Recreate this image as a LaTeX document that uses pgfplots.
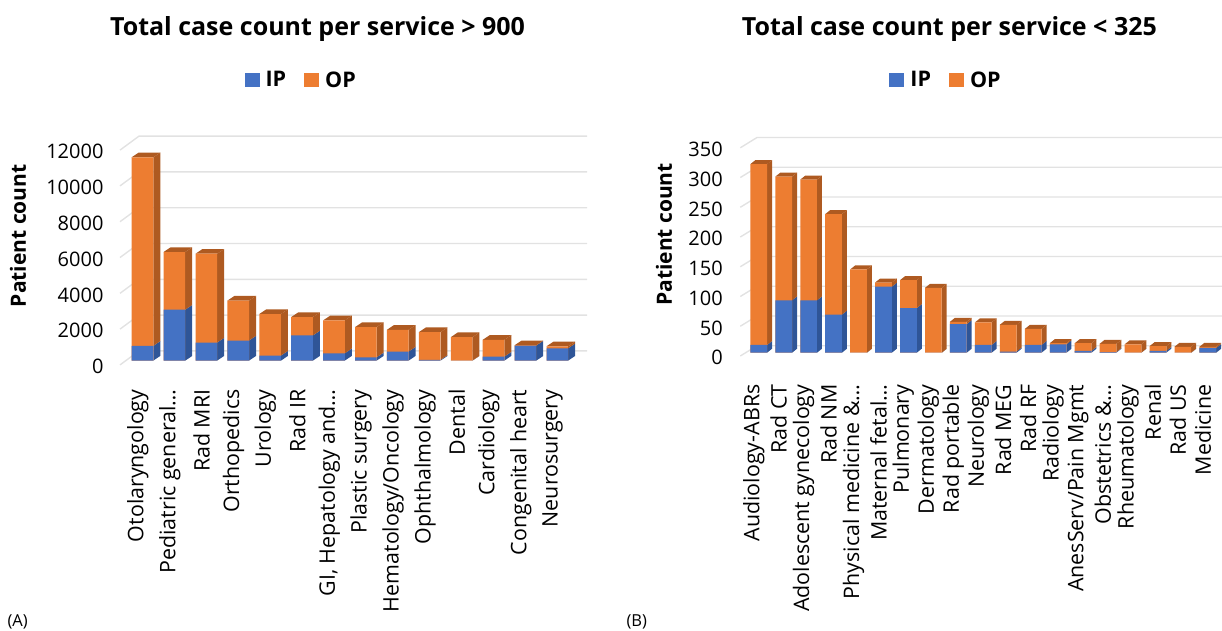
\documentclass[border=0pt]{standalone}
\usepackage{pgfplots}
\usepackage{pgfplotstable}
\usepackage{fontspec}
\setmainfont{Open Sans}
\pgfplotsset{compat=1.18}
\definecolor{ipc}{HTML}{4472C4}
\definecolor{opc}{HTML}{ED7D31}
\definecolor{ips}{HTML}{2F5597}
\definecolor{ops}{HTML}{AE5A21}
\definecolor{gridc}{HTML}{E2E2E2}
\pgfplotstableread{
x ip total
0 824 11360
1 2846 6067
2 1011 5974
3 1124 3352
4 281 2603
5 1404 2434
6 412 2247
7 187 1873
8 506 1723
9 40 1592
10 0 1311
11 225 1161
12 843 860
13 690 800
}\tabA
\pgfplotstableread{
x ip total
0 13 317
1 88 296
2 88 291
3 64 233
4 0 140
5 111 118
6 75 122
7 0 109
8 48 52
9 13 51
10 2 47
11 13 40
12 14 16
13 3 16
14 1 15
15 0 14
16 3 11
17 0 10
18 8 10
}\tabB
\newcommand\depthbar[3]{%
  \pgfmathsetmacro\xa{#1+\hw}\pgfmathsetmacro\xb{\xa+\dpx}\pgfmathsetmacro\xc{#1-\hw}\pgfmathsetmacro\xd{\xc+\dpx}%
  \pgfmathsetmacro\yi{#2+\dpy}\pgfmathsetmacro\yt{#3+\dpy}%
  \edef\tmp{\noexpand\addplot[forget plot,fill=ips,draw=none] coordinates {(\xa,0) (\xb,\dpy) (\xb,\yi) (\xa,#2) (\xa,0)};
  \noexpand\addplot[forget plot,fill=ops,draw=none] coordinates {(\xa,#2) (\xb,\yi) (\xb,\yt) (\xa,#3) (\xa,#2)};
  \noexpand\addplot[forget plot,fill=ops,draw=none] coordinates {(\xc,#3) (\xa,#3) (\xb,\yt) (\xd,\yt) (\xc,#3)};}\tmp}
\newcommand\alldepth[2]{%
  \pgfplotsforeachungrouped \i in {0,...,#2}{%
    \pgfplotstablegetelem{\i}{ip}\of#1\let\ipv\pgfplotsretval
    \pgfplotstablegetelem{\i}{total}\of#1\let\totv\pgfplotsretval
    \depthbar{\i}{\ipv}{\totv}}}
\newcommand\gline[3]{\addplot[forget plot,gridc,line width=1.4pt] coordinates {#1 #2 #3};}
\pgfplotsset{
  chart/.style={
    scale only axis, clip=false, scaled ticks=false,
    axis line style={draw=none}, major tick length=0pt, tick style={draw=none},
    /pgf/number format/assume math mode=true,
    /pgf/number format/1000 sep={},
    yticklabel style={font=\fontsize{20}{24}\selectfont},
    xticklabel style={font=\fontsize{21.4}{24}\selectfont,rotate=90,anchor=east},
    ylabel={\textbf{Patient count}},
    ylabel style={font=\fontsize{21}{24}\selectfont},
    title style={font=\fontsize{25}{30}\selectfont\bfseries,anchor=center},
    legend style={draw=none,fill=none,anchor=center,legend columns=-1,font=\fontsize{21.5}{26}\selectfont\bfseries,
      /tikz/every even column/.append style={column sep=16pt},inner sep=0pt},
    legend image code/.code={\fill[##1] (0pt,-7pt) rectangle (15pt,7pt);\path (19pt,0pt);},
  }
}
\begin{document}
\begin{tikzpicture}
\path[use as bounding box] (0pt,0pt) rectangle (1222pt,631pt);
\begin{axis}[chart, at={(120pt,265pt)}, anchor=south west, width=467pt, height=232.7pt,
  xmin=-0.705, xmax=13.93, ymin=-300, ymax=12700,
  ytick={0,2000,4000,6000,8000,10000,12000},
  xtick={0,...,13},
  xticklabels={Otolaryngology,Pediatric general…,Rad MRI,Orthopedics,Urology,Rad IR,{GI, Hepatology and…},Plastic surgery,Hematology/Oncology,Ophthalmology,Dental,Cardiology,Congenital heart,Neurosurgery},
  xticklabel style={xshift=-20pt,yshift=4.7pt},
  ylabel style={at={(axis description cs:-0.2184,0.56)},anchor=center},
  yticklabel style={xshift=-13pt,yshift=-6pt},
  title={Total case count per service > 900},
  title style={at={(axis description cs:0.423,1.423)}},
  legend style={at={(axis description cs:0.388,1.229)}},
]
\addlegendimage{fill=ipc,draw=none}\addlegendentry{IP}
\addlegendimage{fill=opc,draw=none}\addlegendentry{OP}
\gline{(-0.705,-240)}{(-0.11,542)}{(13.93,542)}
\gline{(-0.705,1760)}{(-0.11,2542)}{(13.93,2542)}
\gline{(-0.705,3760)}{(-0.11,4542)}{(13.93,4542)}
\gline{(-0.705,5760)}{(-0.11,6542)}{(13.93,6542)}
\gline{(-0.705,7760)}{(-0.11,8542)}{(13.93,8542)}
\gline{(-0.705,9760)}{(-0.11,10542)}{(13.93,10542)}
\gline{(-0.705,11760)}{(-0.11,12542)}{(13.93,12542)}
\def\hw{0.339}\def\dpx{0.219}\def\dpy{262}
\alldepth{\tabA}{13}
\addplot[forget plot,ybar,bar width=21.6pt,bar shift=0pt,fill=opc,draw=none] table[x=x,y=total]{\tabA};
\addplot[forget plot,ybar,bar width=21.6pt,bar shift=0pt,fill=ipc,draw=none] table[x=x,y=ip]{\tabA};
\end{axis}
\begin{axis}[chart, at={(740.3pt,275pt)}, anchor=south west, width=481.7pt, height=221pt,
  xmin=-0.738, xmax=18.57, ymin=-5.5, ymax=366,
  ytick={0,50,100,150,200,250,300,350},
  xtick={0,...,18},
  xticklabels={Audiology-ABRs,Rad CT,Adolescent gynecology,Rad NM,Physical medicine \&…,Maternal fetal…,Pulmonary,Dermatology,Rad portable,Neurology,Rad MEG,Rad RF,Radiology,AnesServ/Pain Mgmt,Obstetrics \&…,Rheumatology,Renal,Rad US,Medicine},
  xticklabel style={xshift=-25pt,yshift=5pt,font=\fontsize{21.4}{24}\selectfont},
  ylabel style={at={(axis description cs:-0.1584,0.55)},anchor=center},
  yticklabel style={xshift=-14pt,yshift=-5pt},
  title={Total case count per service < 325},
  title style={at={(axis description cs:0.434,1.451)}},
  legend style={at={(axis description cs:0.427,1.249)}},
]
\addlegendimage{fill=ipc,draw=none}\addlegendentry{IP}
\addlegendimage{fill=opc,draw=none}\addlegendentry{OP}
\gline{(-0.738,-5.5)}{(-0.068,11.8)}{(18.57,11.8)}
\gline{(-0.738,44.5)}{(-0.068,61.8)}{(18.57,61.8)}
\gline{(-0.738,94.5)}{(-0.068,111.8)}{(18.57,111.8)}
\gline{(-0.738,144.5)}{(-0.068,161.8)}{(18.57,161.8)}
\gline{(-0.738,194.5)}{(-0.068,211.8)}{(18.57,211.8)}
\gline{(-0.738,244.5)}{(-0.068,261.8)}{(18.57,261.8)}
\gline{(-0.738,294.5)}{(-0.068,311.8)}{(18.57,311.8)}
\gline{(-0.738,344.5)}{(-0.068,361.8)}{(18.57,361.8)}
\def\hw{0.335}\def\dpx{0.2}\def\dpy{6.7}
\alldepth{\tabB}{18}
\addplot[forget plot,ybar,bar width=16.7pt,bar shift=0pt,fill=opc,draw=none] table[x=x,y=total]{\tabB};
\addplot[forget plot,ybar,bar width=16.7pt,bar shift=0pt,fill=ipc,draw=none] table[x=x,y=ip]{\tabB};
\end{axis}
\node[font=\fontsize{16.5}{20}\selectfont,anchor=west] at (4pt,9pt) {(A)};
\node[font=\fontsize{16.5}{20}\selectfont,anchor=west] at (623pt,9pt) {(B)};
\end{tikzpicture}
\end{document}
